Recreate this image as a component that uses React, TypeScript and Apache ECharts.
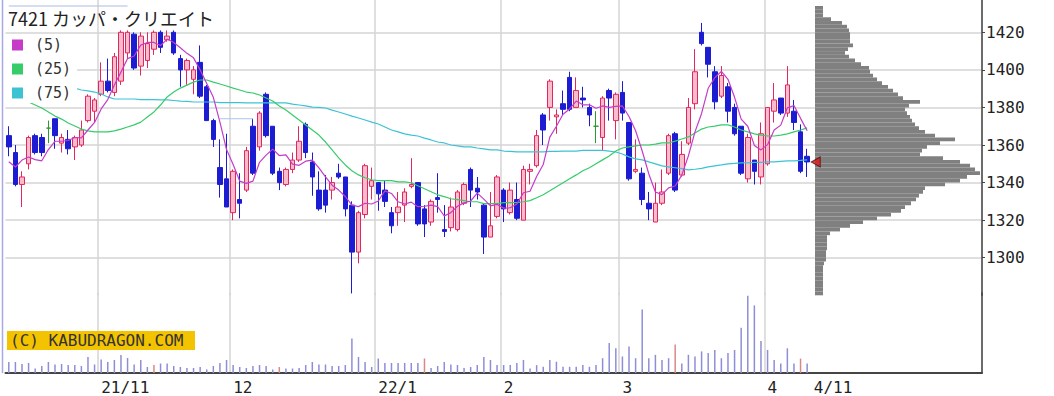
import React, { useEffect, useRef } from "react";
import * as echarts from "echarts";

// ---------- trading days (categories) ----------
const oct2021 = [12, 13, 14, 15, 18, 19, 20, 21, 22, 25, 26, 27, 28, 29];
const nov2021 = [1, 2, 4, 5, 8, 9, 10, 11, 12, 15, 16, 17, 18, 19, 22, 24, 25, 26, 29, 30];
const dec2021 = [1, 2, 3, 6, 7, 8, 9, 10, 13, 14, 15, 16, 17, 20, 21, 22, 23, 24, 27, 28, 29, 30];
const jan2022 = [4, 5, 6, 7, 11, 12, 13, 14, 17, 18, 19, 20, 21, 24, 25, 26, 27, 28, 31];
const feb2022 = [1, 2, 3, 4, 7, 8, 9, 10, 14, 15, 16, 17, 18, 21, 22, 24, 25, 28];
const mar2022 = [1, 2, 3, 4, 7, 8, 9, 10, 11, 14, 15, 16, 17, 18, 22, 23, 24, 25, 28, 29, 30, 31];
const apr2022 = [1, 4, 5, 6, 7, 8, 11];

// ---------- OHLC ----------
const opens = [
  1365, 1356, 1339, 1350, 1365, 1364, 1369, 1374, 1361, 1363,
  1359, 1360, 1373, 1378, 1387, 1394, 1388, 1394, 1409, 1419,
  1402, 1405, 1411, 1420, 1416, 1420, 1406, 1400, 1395, 1404,
  1391, 1373, 1348, 1342, 1324, 1331, 1336, 1370, 1359, 1387,
  1370, 1346, 1339, 1347, 1352, 1371, 1351, 1336, 1336, 1336,
  1345, 1343, 1328, 1303, 1323, 1338, 1340, 1336, 1324, 1324,
  1328, 1338, 1340, 1326, 1319, 1332, 1315, 1316, 1315, 1329,
  1347, 1337, 1328, 1311, 1322, 1336, 1324, 1331, 1320, 1346,
  1349, 1376, 1380, 1375, 1382, 1396, 1380, 1385, 1380, 1370,
  1364, 1389, 1373, 1388, 1372, 1346, 1345, 1329, 1319, 1329,
  1345, 1366, 1344, 1361, 1382, 1420, 1412, 1399, 1386, 1391,
  1380, 1370, 1342, 1352, 1343, 1350, 1378, 1385, 1377, 1378,
  1367, 1354,
];
const closes = [
  1359, 1339, 1343, 1364, 1356, 1356, 1369, 1365, 1364, 1358,
  1364, 1368, 1386, 1384, 1394, 1389, 1407, 1420, 1420, 1401,
  1418, 1414, 1420, 1412, 1418, 1409, 1400, 1405, 1400, 1386,
  1373, 1363, 1339, 1327, 1346, 1329, 1357, 1345, 1377, 1365,
  1345, 1340, 1347, 1352, 1362, 1356, 1343, 1326, 1328, 1340,
  1343, 1326, 1303, 1324, 1349, 1341, 1334, 1330, 1317, 1327,
  1335, 1339, 1318, 1318, 1330, 1331, 1314, 1327, 1335, 1339,
  1336, 1335, 1311, 1317, 1343, 1326, 1336, 1321, 1347, 1347,
  1365, 1368, 1394, 1376, 1379, 1379, 1389, 1384, 1376, 1370,
  1385, 1385, 1387, 1377, 1342, 1347, 1331, 1326, 1329, 1335,
  1365, 1336, 1355, 1380, 1399, 1414, 1403, 1383, 1397, 1378,
  1366, 1345, 1364, 1346, 1366, 1380, 1384, 1377, 1392, 1372,
  1346, 1351,
];
const lows = [
  1354, 1338, 1327, 1347, 1355, 1354, 1361, 1358, 1356, 1355,
  1352, 1359, 1372, 1372, 1386, 1388, 1386, 1392, 1406, 1400,
  1397, 1401, 1408, 1409, 1415, 1408, 1391, 1392, 1387, 1385,
  1373, 1359, 1332, 1327, 1320, 1321, 1335, 1344, 1357, 1364,
  1344, 1336, 1338, 1345, 1351, 1353, 1333, 1325, 1324, 1331,
  1342, 1322, 1281, 1297, 1321, 1331, 1325, 1327, 1313, 1317,
  1319, 1337, 1317, 1311, 1317, 1324, 1311, 1314, 1314, 1328,
  1327, 1331, 1302, 1311, 1321, 1319, 1323, 1320, 1320, 1339,
  1348, 1360, 1373, 1366, 1376, 1378, 1380, 1380, 1370, 1361,
  1357, 1373, 1363, 1373, 1341, 1345, 1328, 1320, 1319, 1328,
  1344, 1335, 1343, 1360, 1379, 1413, 1396, 1379, 1385, 1372,
  1365, 1344, 1340, 1339, 1339, 1349, 1372, 1376, 1375, 1368,
  1345, 1343,
];
const highs = [
  1370, 1360, 1346, 1365, 1366, 1366, 1373, 1374, 1366, 1368,
  1365, 1373, 1387, 1385, 1404, 1406, 1409, 1421, 1421, 1420,
  1420, 1420, 1421, 1421, 1421, 1421, 1408, 1406, 1402, 1413,
  1392, 1374, 1363, 1366, 1347, 1345, 1359, 1374, 1378, 1388,
  1370, 1348, 1348, 1356, 1370, 1372, 1356, 1346, 1344, 1343,
  1350, 1343, 1330, 1325, 1350, 1348, 1340, 1341, 1327, 1335,
  1337, 1353, 1340, 1328, 1331, 1345, 1328, 1332, 1336, 1340,
  1348, 1343, 1329, 1335, 1344, 1337, 1340, 1340, 1349, 1350,
  1368, 1377, 1395, 1379, 1389, 1399, 1396, 1391, 1382, 1378,
  1386, 1390, 1388, 1394, 1372, 1363, 1348, 1335, 1340, 1347,
  1366, 1367, 1362, 1385, 1411, 1425, 1412, 1402, 1402, 1393,
  1382, 1370, 1366, 1352, 1372, 1380, 1393, 1385, 1402, 1384,
  1371, 1358,
];

// ---------- volume ----------
const volumes = [
  11, 11, 9, 10, 4.5, 7, 11, 8.5, 9, 8,
  8, 7, 16, 8.5, 13.5, 11, 13, 18, 15, 8.5,
  13, 6, 8, 9.5, 9.5, 7, 6, 5, 5, 6,
  3.5, 7, 10, 13, 8, 6, 5, 7, 8, 7,
  3.5, 6, 4.5, 4.5, 5, 8, 11, 8.5, 8.5, 7,
  7, 8, 34.5, 16, 11, 6, 14.5, 10, 10, 10,
  10, 10, 10, 14.5, 5, 7, 11, 8.5, 8, 5,
  6, 8, 16, 13, 8, 8, 8, 10, 13, 4.5,
  7.9, 6.2, 13, 11.3, 6.2, 6.2, 6.2, 7.9, 6.2, 7.9,
  14.8, 29.9, 24.7, 16.5, 26.4, 14.8, 63.5, 14.8, 18.2, 13,
  14.8, 28.5, 9.6, 18.2, 16.5, 21.6, 19.9, 23, 14.8, 19.9,
  23, 45.3, 77.2, 67.6, 31.9, 23, 13, 9.6, 24.7, 9.6,
  14.4, 9.6,
];
const sqDays = [22, 41, 63, 101, 120]; // volume bars drawn in red

// ---------- moving averages ----------
const ma5Head = [1351.1, 1348.3, 1352.0, 1353.6];
const ma25 = [
  1387.2, 1385.6, 1384.0, 1382.9, 1381.3, 1379.7, 1377.6, 1375.4, 1373.8, 1371.7,
  1370.1, 1368.5, 1367.5, 1367.0, 1367.0, 1367.0, 1367.5, 1368.5, 1369.6, 1370.7,
  1372.2, 1374.9, 1377.6, 1381.3, 1385.6, 1388.2, 1390.3, 1391.9, 1393.5, 1394.6,
  1394.6, 1393.5, 1392.5, 1391.4, 1390.3, 1389.3, 1388.2, 1387.7, 1386.6, 1385.0,
  1383.4, 1380.8, 1378.6, 1376.0, 1373.3, 1370.7, 1368.0, 1365.3, 1361.6, 1357.4,
  1353.2, 1349.4, 1346.3, 1344.1, 1342.6, 1341.5, 1341.0, 1341.0, 1341.0, 1340.4,
  1340.4, 1339.9, 1338.3, 1336.7, 1335.1, 1333.5, 1332.5, 1331.4, 1330.9, 1330.4,
  1329.8, 1329.8, 1328.8, 1328.8, 1328.8, 1329.3, 1329.3, 1329.3, 1329.8, 1330.4,
  1331.9, 1333.5, 1335.6, 1337.8, 1339.9, 1342.0, 1344.1, 1346.3, 1347.9, 1350.0,
  1352.1, 1354.2, 1356.8, 1358.4, 1359.0, 1359.5, 1360.0, 1360.0, 1360.5, 1361.1,
  1361.1, 1362.1, 1363.2, 1364.3, 1366.4, 1368.5, 1369.6, 1370.1, 1370.7, 1370.7,
  1369.6, 1368.0, 1367.0, 1365.9, 1365.3, 1364.8, 1364.8, 1365.3, 1365.9, 1367.0,
  1368.0, 1369.1,
];
const ma75 = [
  1396.7, 1396.2, 1396.2, 1395.7, 1395.7, 1395.1, 1395.1, 1394.6, 1393.5, 1391.9,
  1390.3, 1389.3, 1388.8, 1388.2, 1387.2, 1385.6, 1384.5, 1384.5, 1384.5, 1384.5,
  1384.2, 1384.2, 1384.2, 1384.0, 1384.0, 1383.7, 1383.4, 1383.2, 1382.9, 1382.9,
  1382.9, 1382.9, 1382.6, 1382.6, 1382.6, 1382.6, 1382.4, 1382.4, 1382.4, 1382.4,
  1382.4, 1382.4, 1382.4, 1381.8, 1381.3, 1380.8, 1380.2, 1380.0, 1379.7, 1378.6,
  1377.6, 1376.5, 1375.4, 1374.4, 1373.3, 1372.2, 1371.2, 1369.6, 1368.0, 1367.0,
  1365.9, 1365.3, 1364.8, 1363.7, 1362.7, 1361.6, 1361.1, 1360.0, 1359.5, 1359.0,
  1359.0, 1358.4, 1357.9, 1357.4, 1357.4, 1356.8, 1356.6, 1356.3, 1356.3, 1356.3,
  1356.3, 1356.3, 1356.6, 1356.6, 1356.8, 1356.8, 1356.8, 1357.1, 1357.1, 1357.1,
  1357.1, 1356.8, 1356.3, 1355.2, 1353.7, 1352.6, 1352.1, 1351.0, 1350.0, 1348.9,
  1348.4, 1347.9, 1347.4, 1346.8, 1347.1, 1347.6, 1348.4, 1348.9, 1349.4, 1350.0,
  1350.2, 1350.5, 1350.5, 1350.8, 1350.8, 1351.0, 1351.0, 1351.3, 1351.6, 1351.6,
  1351.8, 1352.1,
];

// ---------- price-by-volume profile (2-yen bins from 1280) ----------
const profileLow = 1280;
const profileStep = 2;
const profileVolume = [
  8, 8, 8, 8, 8, 8, 8, 8,
  9, 11, 11, 11, 12, 12, 12, 12,
  15, 25, 35, 48, 62, 76, 86, 90,
  96, 101, 104, 108, 110, 130, 145, 152,
  165, 160, 155, 145, 128, 105, 107, 112,
  125, 140, 120, 110, 104, 100, 97, 95,
  92, 90, 94, 105, 88, 83, 78, 73,
  67, 62, 58, 55, 54, 46, 40, 34,
  30, 33, 38, 35, 35, 35, 34, 32,
  27, 16, 8, 8, 8,
];

// ---------- faint reference lines ----------
const refLineA = [[0, 1434], [18, 1434]];
const refLineB = [[32, 1374], [37, 1374]];

const title = "7421 カッパ・クリエイト";
const watermark = "(C) KABUDRAGON.COM";

export default function App() {
  const ref = useRef<HTMLDivElement>(null);

  useEffect(() => {
    if (!ref.current) return;
    const chart = echarts.init(ref.current, undefined, { renderer: "svg" });

    const monthBlocks: [number, number, number[]][] = [
      [2021, 10, oct2021], [2021, 11, nov2021], [2021, 12, dec2021],
      [2022, 1, jan2022], [2022, 2, feb2022], [2022, 3, mar2022], [2022, 4, apr2022],
    ];
    const dates: string[] = monthBlocks.flatMap(([y, m, days]) => days.map((d) => `${y}/${m}/${d}`));
    const PAD = 26;
    const categories = [...dates, ...Array.from({ length: PAD }, (_, i) => `+${i + 1}`)];
    const monthStart = dates.map((d, i) => i > 0 && d.split("/")[1] !== dates[i - 1].split("/")[1]);
    const firstLabel = monthStart.indexOf(true);
    const lastLabel = dates.length;
    const isMonthStart = (i: number) => monthStart[i] === true;
    const labelText = (i: number) => {
      if (i === lastLabel) {
        const [, m, d] = dates[dates.length - 1].split("/");
        return `${m}/${d}`;
      }
      const [y, m] = dates[i].split("/");
      if (i === firstLabel || m === "1") return `${y.slice(2)}/${m}`;
      return m;
    };

    const ma5 = closes.map((_, i) =>
      i < 4 ? ma5Head[i] : +(closes.slice(i - 4, i + 1).reduce((a, b) => a + b, 0) / 5).toFixed(1)
    );
    const bins = profileVolume.map((_, k) => String(profileLow + profileStep * k + profileStep / 2));

    const GRID = "#d4d4d4";
    const mono = '"DejaVu Sans Mono", monospace';
    const left = 5.5;
    const right = 72;

    chart.setOption({
      animation: false,
      backgroundColor: "#ffffff",
      title: {
        text: title,
        left: 8,
        top: 9,
        padding: 0,
        textStyle: { fontFamily: '"Noto Sans CJK JP", sans-serif', fontSize: 18, fontWeight: "normal", color: "#222" },
      },
      legend: {
        data: ["(5)", "(25)", "(75)"],
        orient: "vertical",
        left: 0,
        top: 35,
        padding: [2, 6, 2, 12],
        backgroundColor: "#ffffff",
        icon: "rect",
        itemWidth: 11,
        itemHeight: 11,
        itemGap: 8,
        selectedMode: false,
        textStyle: { fontFamily: mono, fontSize: 15, color: "#333", lineHeight: 16, padding: [0, 0, 0, 7] },
      },
      grid: [
        { left, right, top: 0, height: 295.3 },
        { left, right, top: 293, height: 80 },
        { left: 815, width: 170, top: 6.0, height: 289.3 },
      ],
      xAxis: [
        {
          type: "category", gridIndex: 0, data: categories, boundaryGap: true,
          axisLine: { show: false }, axisTick: { show: false }, axisLabel: { show: false },
          splitLine: { show: true, interval: isMonthStart, lineStyle: { color: GRID, width: 1.5 } },
        },
        {
          type: "category", gridIndex: 1, data: categories, boundaryGap: true,
          axisLine: { show: true, lineStyle: { color: "#444", width: 2 } },
          axisTick: { show: false },
          axisLabel: {
            show: true, interval: (i: number) => isMonthStart(i) || i === lastLabel,
            formatter: (_v: string, i: number) => labelText(i),
            align: "left", margin: 6, fontFamily: mono, fontSize: 16, color: "#222",
          },
          splitLine: { show: true, interval: isMonthStart, lineStyle: { color: GRID, width: 1.5 } },
        },
        { type: "value", gridIndex: 2, min: 0, max: 170, show: false },
      ],
      yAxis: [
        {
          type: "value", gridIndex: 0, position: "right", min: 1280, max: 1437.2, interval: 20,
          axisLine: { show: true, lineStyle: { color: "#444", width: 1.5 } },
          axisTick: { show: true, length: 3, lineStyle: { color: "#444" } },
          axisLabel: {
            showMinLabel: false, showMaxLabel: false, margin: 4, fontFamily: mono, fontSize: 16, color: "#222",
            formatter: (v: number) => String(v),
          },
          splitLine: { show: true, showMinLine: false, showMaxLine: false, lineStyle: { color: GRID, width: 1.5 } },
        },
        {
          type: "value", gridIndex: 1, position: "right", min: 0, max: 80,
          axisLine: { show: true, lineStyle: { color: "#444", width: 1.5 } },
          axisTick: { show: false }, axisLabel: { show: false }, splitLine: { show: false },
        },
        { type: "category", gridIndex: 2, data: bins, show: false, boundaryGap: true },
      ],
      series: [
        {
          type: "candlestick", name: "price", xAxisIndex: 0, yAxisIndex: 0, barWidth: 5,
          data: opens.map((o, i) => [o, closes[i], lows[i], highs[i]]),
          itemStyle: {
            color: "#f7bccd", color0: "#1c1cd2", borderColor: "#e3275e", borderColor0: "#1c1cd2",
            borderColorDoji: "#2c9a2c", borderWidth: 1,
          },
        },
        { type: "line", name: "ref1", xAxisIndex: 0, yAxisIndex: 0, data: refLineA, symbol: "none", lineStyle: { color: "#aebce6", width: 1 }, color: "#aebce6" },
        { type: "line", name: "ref2", xAxisIndex: 0, yAxisIndex: 0, data: refLineB, symbol: "none", lineStyle: { color: "#a9c4f0", width: 1 }, color: "#a9c4f0" },
        { type: "line", name: "(75)", xAxisIndex: 0, yAxisIndex: 0, data: ma75, symbol: "none", color: "#3cc3d3", lineStyle: { color: "#3cc3d3", width: 1.2 } },
        { type: "line", name: "(25)", xAxisIndex: 0, yAxisIndex: 0, data: ma25, symbol: "none", color: "#36cc6a", lineStyle: { color: "#36cc6a", width: 1.2 } },
        { type: "line", name: "(5)", xAxisIndex: 0, yAxisIndex: 0, data: ma5, symbol: "none", color: "#c43cc8", lineStyle: { color: "#c43cc8", width: 1.2 } },
        {
          type: "bar", name: "volume", xAxisIndex: 1, yAxisIndex: 1, barWidth: 1.5,
          data: volumes.map((v, i) => ({ value: v, itemStyle: { color: sqDays.includes(i) ? "#d98888" : "#8e8ed8" } })),
        },
        {
          type: "bar", name: "profile", xAxisIndex: 2, yAxisIndex: 2, barCategoryGap: "0%",
          data: profileVolume, itemStyle: { color: "#808080" },
        },
        {
          type: "scatter", name: "last", xAxisIndex: 0, yAxisIndex: 0, z: 10,
          data: [[dates.length, closes[closes.length - 1]]],
          symbol: "triangle", symbolRotate: 90, symbolSize: [10, 9], symbolOffset: [2, 0],
          itemStyle: { color: "#e01818", borderColor: "#501010", borderWidth: 1 },
        },
      ],
      graphic: [
        { type: "line", shape: { x1: 2.5, y1: 0, x2: 2.5, y2: 373 }, style: { stroke: "#a9a9e6", lineWidth: 1.5 }, z: 5 },
        { type: "rect", shape: { x: 7, y: 331, width: 188, height: 19 }, style: { fill: "#f4c300" }, z: 10 },
        {
          type: "text", x: 10, y: 340.5, z: 11,
          style: { text: watermark, font: `16px ${mono}`, fill: "#333", verticalAlign: "middle" },
        },
      ],
    });

    return () => chart.dispose();
  }, []);

  return (
    <div
      ref={ref}
      style={{ position: "absolute", left: 0, top: 0, width: 1054, height: 396, background: "#fff" }}
    />
  );
}
